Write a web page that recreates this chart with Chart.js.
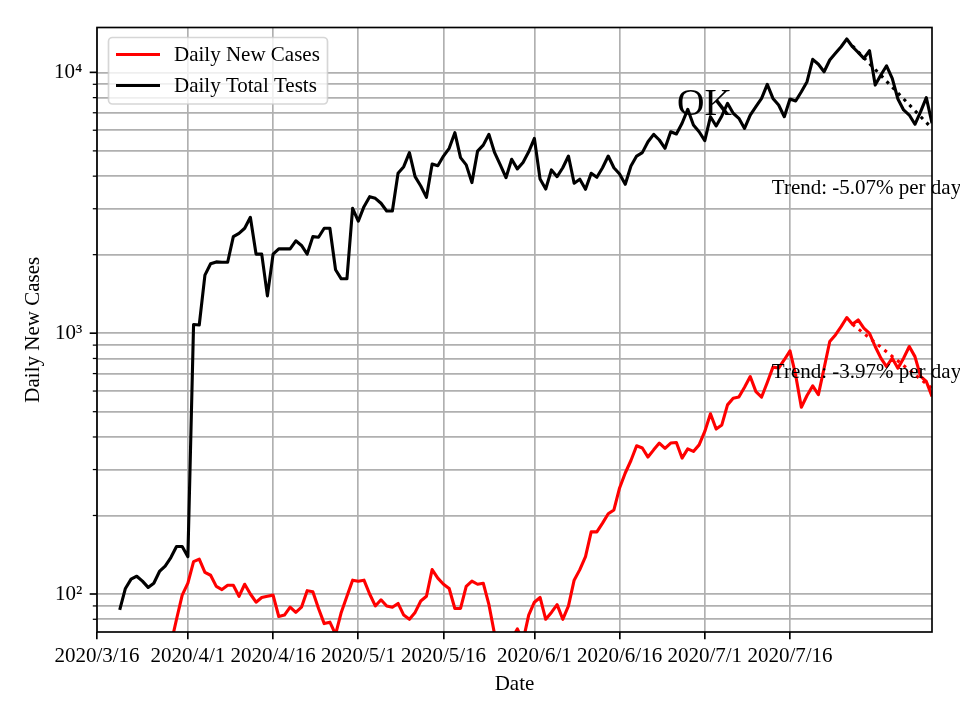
<!DOCTYPE html>
<html>
<head>
<meta charset="utf-8">
<title>Daily New Cases</title>
<script src="https://cdn.jsdelivr.net/npm/chart.js@4.4.1/dist/chart.umd.min.js"></script>
<style>
  html, body { margin: 0; padding: 0; background: #fff; }
  #chart { display: block; }
</style>
</head>
<body>
<canvas id="chart" width="960" height="720"></canvas>
<script>
// x values are days counted from 2020/3/16
const xTickDays = [0, 16, 31, 46, 61, 77, 92, 107, 122];
const xTickLabels = ['2020/3/16', '2020/4/1', '2020/4/16', '2020/5/1', '2020/5/16',
  '2020/6/1', '2020/6/16', '2020/7/1', '2020/7/16'];
const X_MAX_DAY = 147;

const yMajorTicks = [100, 1000, 10000];
const yTickLabels = ['10²', '10³', '10⁴'];
const Y_MIN = 71.5;
const Y_MAX = 14860;

const seriesLabels = ['Daily New Cases', 'Daily Total Tests'];

const testsFirstDay = 4;
const testsValues = [
  87, 105, 114, 117, 112, 106, 110, 122, 128, 138,
  152, 152, 139, 1080, 1075, 1670, 1845, 1876, 1870, 1870,
  2345, 2415, 2525, 2782, 2010, 2010, 1390, 2010, 2105, 2105,
  2105, 2260, 2170, 2010, 2345, 2333, 2525, 2525, 1750, 1616,
  1616, 3010, 2690, 3055, 3337, 3290, 3148, 2942, 2942, 4102,
  4348, 4920, 3983, 3667, 3318, 4454, 4388, 4777, 5114, 5870,
  4710, 4418, 3778, 4990, 5260, 5786, 4920, 4418, 3946, 4645,
  4266, 4511, 4960, 5584, 3900, 3571, 4227, 3983, 4308, 4777,
  3757, 3893, 3563, 4102, 3960, 4308, 4777, 4308, 4074, 3724,
  4376, 4777, 4923, 5418, 5786, 5504, 5117, 5919, 5803, 6383,
  7216, 6281, 5919, 5472, 6761, 6226, 6810, 7608, 6970, 6666,
  6097, 6860, 7385, 7943, 8992, 7943, 7499, 6761, 7907, 7769,
  8431, 9207, 11218, 10739, 10053, 11150, 11829, 12537, 13424, 12537,
  11935, 11316, 12102, 8937, 9772, 10600, 9485, 7907, 7178, 6860,
  6324, 7066, 8000, 6383
];

const casesFirstDay = 13;
const casesValues = [
  64, 80, 99, 110, 133, 136, 121, 118, 107, 104,
  108, 108, 98, 109, 100, 93, 97, 98, 99, 82,
  83, 89, 85, 89, 103, 102, 88, 77, 78, 70,
  85, 98, 113, 112, 113, 100, 90, 95, 90, 89,
  92, 83, 80, 85, 94, 98, 124, 115, 109, 105,
  88, 88, 107, 112, 109, 110, 91, 70, 62, 64,
  67, 73.5, 66, 83, 93, 97, 80, 85, 91, 80,
  90, 113, 124, 139, 173, 173, 187, 203, 210, 255,
  291, 325, 370, 363, 335, 357, 379, 362, 379, 381,
  332, 360, 352, 373, 420, 491, 429, 445, 531, 563,
  569, 621, 682, 597, 569, 647, 741, 735, 791, 855,
  690, 520, 577, 628, 581, 734, 929, 985, 1059, 1148,
  1082, 1124, 1045, 999, 889, 802, 745, 802, 734, 802,
  889, 813, 683, 653, 572
];

// fitted trend, start and end of the last two weeks
const trendDays = [133, 147];
const testsTrend = [12630, 6100];
const casesTrend = [1082, 614];

const notes = [
  { text: 'OK', day: 102.1, value: 6860, size: 38 },
  { text: 'Trend: -5.07% per day', day: 118.8, value: 3420, size: 21 },
  { text: 'Trend: -3.97% per day', day: 118.8, value: 675, size: 21 }
];

const FONT = "'Liberation Serif', 'Times New Roman', serif";
const LW = 3.1;
const GRID = '#b0b0b0';

const toPoints = (first, values) => values.map((v, i) => ({ x: first + i, y: v }));
const trendPoints = (values) => values.map((v, i) => ({ x: trendDays[i], y: v }));

Chart.defaults.font.family = FONT;
Chart.defaults.font.size = 21;
Chart.defaults.color = '#000';

// spines, y tick marks, legend and text notes, matplotlib style
const decorPlugin = {
  id: 'decor',
  afterDatasetsDraw(chart) {
    const { ctx, chartArea: a, scales } = chart;
    ctx.save();
    ctx.strokeStyle = '#000';
    ctx.lineWidth = 1.67;
    ctx.strokeRect(a.left, a.top, a.right - a.left, a.bottom - a.top);

    scales.y.ticks.forEach((t) => {
      const y = scales.y.getPixelForValue(t.value);
      const major = yMajorTicks.includes(t.value);
      ctx.lineWidth = major ? 1.67 : 1.25;
      ctx.beginPath();
      ctx.moveTo(a.left - (major ? 7.3 : 4.2), y);
      ctx.lineTo(a.left, y);
      ctx.stroke();
    });

    ctx.fillStyle = '#000';
    ctx.textBaseline = 'alphabetic';
    ctx.textAlign = 'left';
    notes.forEach((n) => {
      ctx.font = `${n.size}px ${FONT}`;
      ctx.fillText(n.text, scales.x.getPixelForValue(n.day), scales.y.getPixelForValue(n.value));
    });

    // legend box
    const bx = 108.5, by = 37.5, bw = 219, bh = 66.5;
    ctx.beginPath();
    ctx.roundRect(bx, by, bw, bh, 4);
    ctx.fillStyle = 'rgba(255,255,255,0.8)';
    ctx.fill();
    ctx.strokeStyle = 'rgba(204,204,204,0.8)';
    ctx.lineWidth = 1.67;
    ctx.stroke();
    ctx.font = `21px ${FONT}`;
    ctx.textBaseline = 'middle';
    [0, 1].forEach((i) => {
      const ds = chart.data.datasets[i];
      const y = 54.5 + i * 31;
      ctx.strokeStyle = ds.borderColor;
      ctx.lineWidth = LW;
      ctx.beginPath();
      ctx.moveTo(116, y);
      ctx.lineTo(160, y);
      ctx.stroke();
      ctx.fillStyle = '#000';
      ctx.fillText(ds.label, 174, y + 1);
    });
    ctx.restore();
  }
};

const lineStyle = {
  borderWidth: LW,
  pointRadius: 0,
  tension: 0,
  borderJoinStyle: 'round',
  fill: false
};

new Chart(document.getElementById('chart'), {
  type: 'line',
  data: {
    datasets: [
      { ...lineStyle, label: seriesLabels[0], data: toPoints(casesFirstDay, casesValues), borderColor: '#ff0000' },
      { ...lineStyle, label: seriesLabels[1], data: toPoints(testsFirstDay, testsValues), borderColor: '#000000' },
      { ...lineStyle, label: 'cases trend', data: trendPoints(casesTrend), borderColor: '#ff0000', borderDash: [3.1, 5.1] },
      { ...lineStyle, label: 'tests trend', data: trendPoints(testsTrend), borderColor: '#000000', borderDash: [3.1, 5.1] }
    ]
  },
  options: {
    responsive: false,
    animation: false,
    devicePixelRatio: 1,
    layout: { padding: { left: 0, right: 28, top: 27.5, bottom: 0 } },
    plugins: { legend: { display: false }, tooltip: { enabled: false } },
    scales: {
      x: {
        type: 'linear',
        min: 0,
        max: X_MAX_DAY,
        afterBuildTicks: (scale) => { scale.ticks = xTickDays.map((v) => ({ value: v })); },
        afterFit: (scale) => { scale.height = 88; },
        ticks: {
          autoSkip: false,
          maxRotation: 0,
          padding: 5,
          callback: (v) => xTickLabels[xTickDays.indexOf(v)] ?? ''
        },
        grid: { color: GRID, lineWidth: 1.67, drawTicks: true, tickLength: 7.3, tickColor: '#000', tickWidth: 1.67 },
        border: { display: false },
        title: { display: true, text: 'Date', padding: { bottom: 23.4 } }
      },
      y: {
        type: 'logarithmic',
        min: Y_MIN,
        max: Y_MAX,
        afterBuildTicks: (scale) => {
          const ticks = [];
          [10, 100, 1000, 10000].forEach((d) => {
            for (let k = 1; k < 10; k += 1) {
              const v = d * k;
              if (v >= Y_MIN && v <= Y_MAX) ticks.push({ value: v });
            }
          });
          scale.ticks = ticks;
        },
        afterFit: (scale) => { scale.width = 97; },
        ticks: {
          autoSkip: false,
          padding: 14.6,
          callback: (v) => {
            const i = yMajorTicks.indexOf(v);
            return i >= 0 ? yTickLabels[i] : '';
          }
        },
        grid: { color: GRID, lineWidth: 1.67, drawTicks: false },
        border: { display: false },
        title: { display: true, text: 'Daily New Cases', padding: { top: 20.4 } }
      }
    }
  },
  plugins: [decorPlugin]
});
</script>
</body>
</html>
